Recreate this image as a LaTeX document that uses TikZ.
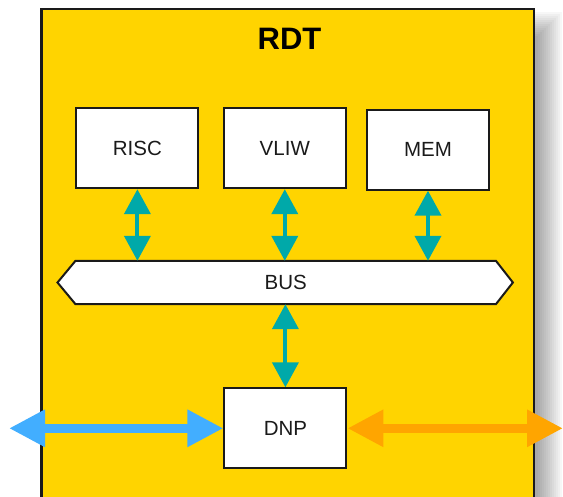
\documentclass[tikz,border=0pt]{standalone}
\usepackage{fontspec}
\setmainfont{Liberation Sans}
\usetikzlibrary{arrows.meta}
\definecolor{rdtyellow}{HTML}{FFD400}
\definecolor{busteal}{HTML}{00A9A9}
\definecolor{linkblue}{HTML}{42AEFF}
\definecolor{linkorange}{HTML}{FFA500}
\definecolor{edgeink}{HTML}{1A1A1A}
\begin{document}
\begin{tikzpicture}[x=1pt,y=-1pt,
  unitbox/.style={draw=edgeink, line width=2pt, fill=white, rectangle,
    minimum width=122pt, minimum height=80pt, inner sep=0pt,
    font=\fontsize{20.5}{24}\selectfont, text=edgeink},
  busbox/.style={rectangle, minimum width=420pt, minimum height=43pt, inner sep=0pt,
    font=\fontsize{20.5}{24}\selectfont, text=edgeink},
  tealarrow/.style={draw=busteal, line width=4pt,
    arrows={Triangle[width=26pt,length=25pt]-Triangle[width=26pt,length=25pt]}},
  biglink/.style={line width=9pt,
    arrows={Triangle[width=35pt,length=36pt]-Triangle[width=35pt,length=36pt]}}]
\useasboundingbox (0,0) rectangle (563,497);
\clip (0,0) rectangle (563,497);

% soft drop shadow of the RDT block
\foreach \r in {13,11,...,-11}
  \fill[black, opacity=0.032] (55.5-\r,25-\r) rectangle (549+\r,530);

% RDT block
\draw[draw=edgeink, line width=2.2pt, fill=rdtyellow] (41.5,9) rectangle (534,520);
\node[font=\bfseries\fontsize{31}{36}\selectfont, text=black, inner sep=0pt] (title) at (289.5,39) {RDT};

% processing units
\node[unitbox] (RISC) at (137.4,148.2) {RISC};
\node[unitbox] (VLIW) at (284.8,148.2) {VLIW};
\node[unitbox] (MEM)  at (428,149.7) {MEM};
\node[unitbox] (DNP)  at (285.4,428.3) {DNP};

% shared bus
\node[busbox] (BUS) at (285.7,282.5) {};
\draw[draw=edgeink, line width=2pt, fill=white]
  (BUS.north west) -- (BUS.north east) -- ([xshift=17pt]BUS.east)
  -- (BUS.south east) -- (BUS.south west) -- ([xshift=-18pt]BUS.west) -- cycle;
\node[busbox] at (BUS.center) {BUS};

% links between units and bus
\draw[tealarrow] (RISC.south) -- (RISC.south |- BUS.north);
\draw[tealarrow] (VLIW.south) -- (VLIW.south |- BUS.north);
\draw[tealarrow] (MEM.south)  -- (MEM.south |- BUS.north);
\draw[tealarrow] (BUS.south -| DNP.north) -- (DNP.north);

% external network links
\coordinate (westend) at (9,428.3);
\coordinate (eastend) at (563,428.3);
\draw[biglink, draw=linkblue, fill=linkblue] (westend) -- (DNP.west);
\draw[biglink, draw=linkorange, fill=linkorange] (DNP.east) -- (eastend);
\end{tikzpicture}
\end{document}
